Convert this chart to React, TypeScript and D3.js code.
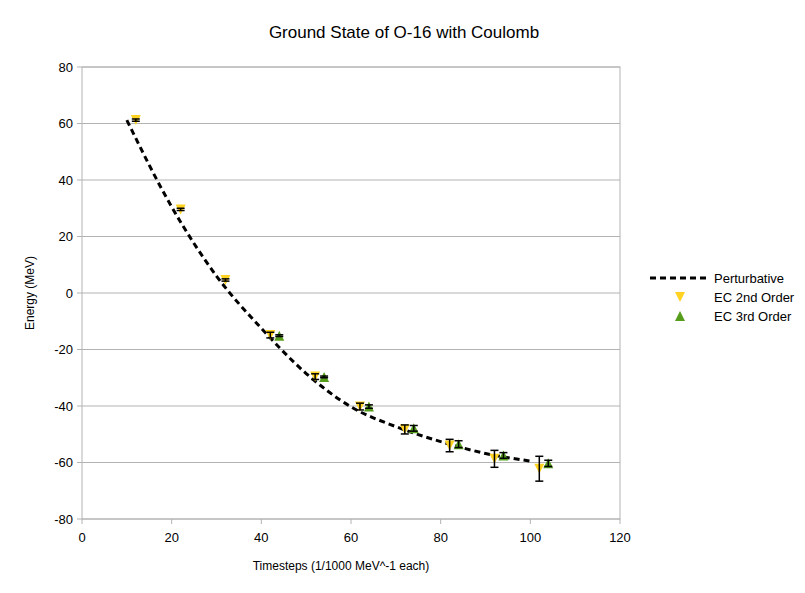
import * as d3 from "d3";
import { useEffect, useRef } from "react";

const perturbX = [10, 20, 30, 40, 50, 60, 70, 80, 90, 100];
const perturbY = [61.2, 30.5, 6, -12.5, -28.5, -40.3, -47.3, -52.6, -56.8, -59.5];

const ec2X = [12, 22, 32, 42, 52, 62, 72, 82, 92, 102];
const ec2Y = [61.2, 29.6, 4.6, -14.9, -29.6, -40.2, -48.3, -54.0, -58.7, -62.2];
const ec2Err = [0.4, 0.4, 0.4, 1.0, 1.0, 1.2, 1.6, 2.2, 3.0, 4.4];

const ec3X = [44, 54, 64, 74, 84, 94, 104];
const ec3Y = [-15.1, -29.7, -40.2, -47.9, -53.5, -57.5, -60.3];
const ec3Err = [0.3, 0.3, 0.6, 1.0, 1.2, 1.0, 1.1];

const xTicks = [0, 20, 40, 60, 80, 100, 120];
const yTicks = [80, 60, 40, 20, 0, -20, -40, -60, -80];

const FONT = "'Liberation Sans', Arial, sans-serif";
const YELLOW = "#ffd320";
const GREEN = "#579d1c";
const GRID = "#b3b3b3";

// triangle 10 wide and 10 tall, pointing up (flip for down)
const triangle = (up: boolean) => {
  const p = d3.path();
  const h = up ? 5 : -5;
  p.moveTo(0, -h);
  p.lineTo(5, h);
  p.lineTo(-5, h);
  p.closePath();
  return p.toString();
};

export default function App() {
  const svgRef = useRef<SVGSVGElement>(null);

  useEffect(() => {
    const svg = d3.select(svgRef.current);
    svg.selectAll("*").remove();

    const left = 82;
    const right = 620;
    const top = 67;
    const bottom = 519;

    const x = d3.scaleLinear().domain([0, 120]).range([left, right]);
    const y = d3.scaleLinear().domain([-80, 80]).range([bottom, top]);

    svg.append("rect").attr("width", 805).attr("height", 593).attr("fill", "#fff");

    // grid
    svg
      .append("g")
      .selectAll("line")
      .data(yTicks)
      .join("line")
      .attr("x1", left)
      .attr("x2", right)
      .attr("y1", (d) => y(d))
      .attr("y2", (d) => y(d))
      .attr("stroke", GRID)
      .attr("stroke-width", 1);

    svg
      .append("rect")
      .attr("x", left)
      .attr("y", top)
      .attr("width", right - left)
      .attr("height", bottom - top)
      .attr("fill", "none")
      .attr("stroke", GRID);

    // ticks
    const tickG = svg.append("g").attr("stroke", GRID);
    yTicks.forEach((t) => {
      tickG.append("line").attr("x1", left - 5).attr("x2", left).attr("y1", y(t)).attr("y2", y(t));
    });
    xTicks.forEach((t) => {
      tickG.append("line").attr("x1", x(t)).attr("x2", x(t)).attr("y1", bottom).attr("y2", bottom + 5);
    });

    const labelG = svg.append("g").attr("font-family", FONT).attr("font-size", 13).attr("fill", "#000");
    yTicks.forEach((t) => {
      labelG
        .append("text")
        .attr("x", left - 9)
        .attr("y", y(t))
        .attr("dy", "0.35em")
        .attr("text-anchor", "end")
        .text(t);
    });
    xTicks.forEach((t) => {
      labelG
        .append("text")
        .attr("x", x(t))
        .attr("y", bottom + 23)
        .attr("text-anchor", "middle")
        .text(t);
    });

    // perturbative curve
    const line = d3
      .line<number>()
      .x((_, i) => x(perturbX[i]))
      .y((d) => y(d))
      .curve(d3.curveMonotoneX);

    svg
      .append("path")
      .attr("d", line(perturbY))
      .attr("fill", "none")
      .attr("stroke", "#000")
      .attr("stroke-width", 3)
      .attr("stroke-dasharray", "6,4");

    // EC 2nd order markers
    svg
      .append("g")
      .selectAll("path")
      .data(ec2Y)
      .join("path")
      .attr("d", triangle(false))
      .attr("transform", (d, i) => `translate(${x(ec2X[i])},${y(d)})`)
      .attr("fill", YELLOW);

    svg
      .append("g")
      .selectAll("path")
      .data(ec3Y)
      .join("path")
      .attr("d", triangle(true))
      .attr("transform", (d, i) => `translate(${x(ec3X[i])},${y(d)})`)
      .attr("fill", GREEN);

    // error bars
    const drawErr = (xs: number[], ys: number[], es: number[]) => {
      const g = svg.append("g").attr("stroke", "#000").attr("stroke-width", 1.5);
      ys.forEach((v, i) => {
        const cx = x(xs[i]);
        const y1 = y(v + es[i]);
        const y2 = y(v - es[i]);
        g.append("line").attr("x1", cx).attr("x2", cx).attr("y1", y1).attr("y2", y2);
        g.append("line").attr("x1", cx - 4).attr("x2", cx + 4).attr("y1", y1).attr("y2", y1);
        g.append("line").attr("x1", cx - 4).attr("x2", cx + 4).attr("y1", y2).attr("y2", y2);
      });
    };
    drawErr(ec2X, ec2Y, ec2Err);
    drawErr(ec3X, ec3Y, ec3Err);

    // title and axis titles
    svg
      .append("text")
      .attr("x", 404)
      .attr("y", 38)
      .attr("text-anchor", "middle")
      .attr("font-family", FONT)
      .attr("font-size", 17)
      .text("Ground State of O-16 with Coulomb");

    svg
      .append("text")
      .attr("x", 341)
      .attr("y", 570)
      .attr("text-anchor", "middle")
      .attr("font-family", FONT)
      .attr("font-size", 12)
      .text("Timesteps (1/1000 MeV^-1 each)");

    svg
      .append("text")
      .attr("transform", `translate(34,${y(0)}) rotate(-90)`)
      .attr("text-anchor", "middle")
      .attr("font-family", FONT)
      .attr("font-size", 12)
      .text("Energy (MeV)");

    // legend
    const lg = svg.append("g").attr("font-family", FONT).attr("font-size", 13);
    lg.append("line")
      .attr("x1", 650)
      .attr("x2", 710)
      .attr("y1", 278)
      .attr("y2", 278)
      .attr("stroke", "#000")
      .attr("stroke-width", 3)
      .attr("stroke-dasharray", "6,4");
    lg.append("text").attr("x", 714).attr("y", 278).attr("dy", "0.35em").text("Perturbative");
    lg.append("path").attr("d", triangle(false)).attr("transform", "translate(680,297)").attr("fill", YELLOW);
    lg.append("text").attr("x", 714).attr("y", 297).attr("dy", "0.35em").text("EC 2nd Order");
    lg.append("path").attr("d", triangle(true)).attr("transform", "translate(680,316)").attr("fill", GREEN);
    lg.append("text").attr("x", 714).attr("y", 316).attr("dy", "0.35em").text("EC 3rd Order");
  }, []);

  return (
    <svg
      ref={svgRef}
      width={805}
      height={593}
      style={{ position: "absolute", left: 0, top: 0 }}
    />
  );
}
